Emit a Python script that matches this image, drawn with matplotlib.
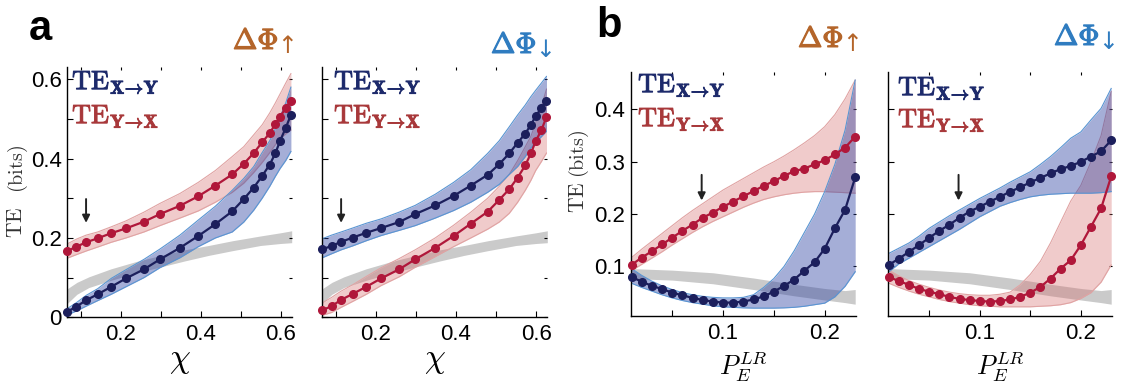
import numpy as np
import matplotlib.pyplot as plt
import matplotlib.patheffects as pe_fx
from matplotlib.ticker import MultipleLocator, FuncFormatter

plt.rcParams['font.family'] = ['Liberation Sans', 'DejaVu Sans']
plt.rcParams['mathtext.fontset'] = 'cm'

# coupling strength axis (panel a)
chi = [0.066, 0.089, 0.113, 0.142, 0.176, 0.213, 0.258, 0.298, 0.348, 0.394,
       0.437, 0.479, 0.508, 0.533, 0.554, 0.573, 0.587, 0.599, 0.613, 0.626]

# a, dPhi up
a_up_xy = [0.014, 0.027, 0.043, 0.058, 0.077, 0.098, 0.121, 0.146, 0.175, 0.205,
           0.235, 0.267, 0.298, 0.327, 0.356, 0.385, 0.413, 0.445, 0.477, 0.510]
a_up_xy_lo = [0.006, 0.016, 0.028, 0.042, 0.058, 0.077, 0.100, 0.125, 0.150, 0.178,
              0.200, 0.215, 0.240, 0.270, 0.300, 0.330, 0.355, 0.375, 0.395, 0.418]
a_up_xy_hi = [0.022, 0.037, 0.055, 0.072, 0.098, 0.120, 0.146, 0.172, 0.207, 0.245,
              0.280, 0.320, 0.350, 0.380, 0.415, 0.445, 0.475, 0.505, 0.540, 0.580]
a_up_yx = [0.167, 0.178, 0.189, 0.199, 0.212, 0.224, 0.241, 0.260, 0.281, 0.305,
           0.332, 0.360, 0.387, 0.414, 0.441, 0.464, 0.487, 0.506, 0.527, 0.546]
a_up_yx_lo = [0.149, 0.158, 0.167, 0.177, 0.189, 0.200, 0.215, 0.231, 0.250, 0.268,
              0.290, 0.315, 0.338, 0.365, 0.390, 0.415, 0.435, 0.450, 0.462, 0.472]
a_up_yx_hi = [0.185, 0.197, 0.207, 0.215, 0.228, 0.243, 0.265, 0.287, 0.312, 0.340,
              0.370, 0.405, 0.430, 0.460, 0.485, 0.515, 0.540, 0.563, 0.590, 0.614]

# a, dPhi down
a_dn_xy = [0.171, 0.180, 0.190, 0.201, 0.213, 0.225, 0.240, 0.260, 0.282, 0.306,
           0.332, 0.359, 0.386, 0.413, 0.440, 0.463, 0.485, 0.507, 0.527, 0.545]
a_dn_xy_lo = [0.150, 0.160, 0.170, 0.180, 0.193, 0.206, 0.219, 0.231, 0.250, 0.269,
              0.290, 0.315, 0.335, 0.360, 0.380, 0.405, 0.427, 0.440, 0.455, 0.469]
a_dn_xy_hi = [0.198, 0.207, 0.215, 0.225, 0.237, 0.248, 0.265, 0.282, 0.310, 0.340,
              0.372, 0.413, 0.445, 0.480, 0.510, 0.535, 0.556, 0.572, 0.590, 0.607]
a_dn_yx = [0.018, 0.028, 0.044, 0.059, 0.077, 0.098, 0.121, 0.146, 0.175, 0.205,
           0.236, 0.266, 0.296, 0.323, 0.352, 0.383, 0.413, 0.444, 0.471, 0.505]
a_dn_yx_lo = [0.005, 0.012, 0.025, 0.040, 0.058, 0.080, 0.102, 0.126, 0.153, 0.178,
              0.200, 0.222, 0.240, 0.262, 0.290, 0.320, 0.345, 0.370, 0.392, 0.414]
a_dn_yx_hi = [0.036, 0.050, 0.066, 0.082, 0.103, 0.125, 0.148, 0.170, 0.200, 0.232,
              0.265, 0.300, 0.330, 0.360, 0.395, 0.430, 0.456, 0.490, 0.530, 0.575]

# surrogate baseline (grey) for panel a
a_base_x = [0.066, 0.09, 0.12, 0.175, 0.24, 0.3, 0.36, 0.42, 0.48, 0.55, 0.6, 0.628]
a_base_lo = [0.035, 0.058, 0.075, 0.093, 0.112, 0.127, 0.142, 0.156, 0.168, 0.181, 0.186, 0.188]
a_base_hi = [0.072, 0.088, 0.102, 0.122, 0.141, 0.156, 0.170, 0.181, 0.193, 0.205, 0.213, 0.218]

# long-range probability axis (panel b)
pe = [0.01, 0.02, 0.03, 0.04, 0.05, 0.06, 0.07, 0.08, 0.09, 0.10, 0.11, 0.12,
      0.13, 0.14, 0.15, 0.16, 0.17, 0.18, 0.19, 0.20, 0.21, 0.22, 0.23]

# b, dPhi up
b_up_xy = [0.080, 0.071, 0.063, 0.057, 0.050, 0.045, 0.040, 0.036, 0.033, 0.031, 0.031, 0.033,
           0.037, 0.043, 0.052, 0.063, 0.075, 0.092, 0.108, 0.134, 0.173, 0.208, 0.270]
b_up_xy_lo = [0.068, 0.060, 0.053, 0.046, 0.040, 0.035, 0.031, 0.028, 0.025, 0.023, 0.022, 0.021,
              0.0205, 0.0205, 0.0205, 0.021, 0.022, 0.024, 0.027, 0.030, 0.042, 0.062, 0.090]
b_up_xy_hi = [0.096, 0.083, 0.072, 0.063, 0.056, 0.050, 0.046, 0.043, 0.041, 0.040, 0.040, 0.041,
              0.046, 0.060, 0.077, 0.100, 0.130, 0.165, 0.200, 0.243, 0.295, 0.360, 0.456]
b_up_yx = [0.103, 0.117, 0.129, 0.142, 0.155, 0.168, 0.180, 0.193, 0.203, 0.214, 0.224, 0.234,
           0.244, 0.254, 0.263, 0.273, 0.282, 0.287, 0.295, 0.303, 0.314, 0.327, 0.348]
b_up_yx_lo = [0.092, 0.104, 0.116, 0.128, 0.141, 0.153, 0.165, 0.176, 0.186, 0.195, 0.204, 0.213,
              0.221, 0.228, 0.233, 0.237, 0.240, 0.242, 0.243, 0.243, 0.242, 0.241, 0.240]
b_up_yx_hi = [0.117, 0.133, 0.148, 0.163, 0.178, 0.193, 0.207, 0.220, 0.233, 0.246, 0.257, 0.268,
              0.279, 0.290, 0.300, 0.311, 0.323, 0.336, 0.350, 0.367, 0.390, 0.420, 0.456]

# b, dPhi down
b_dn_xy = [0.103, 0.115, 0.128, 0.141, 0.155, 0.168, 0.180, 0.193, 0.205, 0.214, 0.224, 0.233,
           0.243, 0.251, 0.261, 0.269, 0.278, 0.286, 0.292, 0.300, 0.310, 0.320, 0.341]
b_dn_xy_lo = [0.090, 0.105, 0.116, 0.127, 0.138, 0.149, 0.160, 0.171, 0.183, 0.195, 0.205, 0.215,
              0.222, 0.228, 0.233, 0.236, 0.238, 0.239, 0.240, 0.240, 0.240, 0.241, 0.243]
b_dn_xy_hi = [0.125, 0.135, 0.145, 0.158, 0.173, 0.185, 0.197, 0.208, 0.219, 0.230, 0.240, 0.250,
              0.261, 0.271, 0.281, 0.295, 0.310, 0.327, 0.345, 0.357, 0.380, 0.402, 0.440]
b_dn_yx = [0.080, 0.072, 0.065, 0.057, 0.052, 0.047, 0.042, 0.038, 0.036, 0.034, 0.033, 0.034,
           0.037, 0.042, 0.050, 0.061, 0.077, 0.096, 0.112, 0.141, 0.176, 0.211, 0.272]
b_dn_yx_lo = [0.068, 0.060, 0.053, 0.047, 0.042, 0.037, 0.033, 0.030, 0.027, 0.025, 0.024, 0.023,
              0.023, 0.023, 0.023, 0.024, 0.025, 0.027, 0.031, 0.039, 0.050, 0.070, 0.103]
b_dn_yx_hi = [0.093, 0.082, 0.073, 0.066, 0.060, 0.055, 0.051, 0.048, 0.046, 0.045, 0.045, 0.047,
              0.051, 0.065, 0.085, 0.110, 0.145, 0.185, 0.225, 0.255, 0.300, 0.350, 0.434]

# surrogate baseline (grey) for panel b
b_base_x = [0.01, 0.05, 0.09, 0.13, 0.17, 0.2, 0.22, 0.23]
b_base_lo = [0.077, 0.074, 0.067, 0.056, 0.044, 0.036, 0.031, 0.028]
b_base_hi = [0.096, 0.093, 0.088, 0.078, 0.066, 0.058, 0.054, 0.056]

# arrows marking the reference operating point: (x, y_start, y_end)
arrow_a = (0.113, 0.298, 0.238)
arrow_b = (0.079, 0.275, 0.226)

NAVY = '#1c1f5c'
CRIMSON = '#b0173a'
BAND_BLUE = '#2a3fa0'
EDGE_BLUE = '#5a95d2'
BAND_RED = '#d46a6a'
EDGE_RED = '#e0a3a3'
GREY = '#cacaca'
UP = '#b4652a'
DOWN = '#2f7cc0'
TXT_NAVY = '#1d2a6b'
TXT_RED = '#a8383a'

W, H = 1123, 383
fig = plt.figure(figsize=(W / 100, H / 100), dpi=100)


def px(x, y):
    return x / W, 1 - y / H


def heavy(color, w=0.7):
    return [pe_fx.withStroke(linewidth=w, foreground=color)]


def series(ax, x, y, lo, hi, line, face, edge, alpha):
    ax.fill_between(x, lo, hi, color=face, alpha=alpha, lw=0, zorder=2)
    ax.plot(x, lo, color=edge, lw=0.8, zorder=2)
    ax.plot(x, hi, color=edge, lw=0.8, zorder=2)
    ax.plot(x, y, '-o', color=line, lw=1.6, ms=5.5, zorder=4, clip_on=False)


def style(ax, xlim, ylim, xmaj, xmin, ymaj, ymin, show_y):
    ax.set_xlim(*xlim)
    ax.set_ylim(*ylim)
    for s in ('top', 'right'):
        ax.spines[s].set_visible(False)
    for s in ('left', 'bottom'):
        ax.spines[s].set_linewidth(1.0)
    ax.xaxis.set_major_locator(MultipleLocator(xmaj))
    ax.xaxis.set_minor_locator(MultipleLocator(xmin))
    ax.yaxis.set_major_locator(MultipleLocator(ymaj))
    ax.yaxis.set_minor_locator(MultipleLocator(ymin))
    fmt = FuncFormatter(lambda v, _: '%g' % round(v, 3))
    ax.xaxis.set_major_formatter(fmt)
    ax.yaxis.set_major_formatter(fmt)
    ax.tick_params(which='both', direction='in', length=4, width=0.8,
                   labelsize=16, pad=5, right=True, top=True)
    ax.tick_params(axis='y', which='both', pad=4)
    if not show_y:
        ax.tick_params(axis='y', labelleft=False)
    # faint ticks on the open right and top edges
    for axis in (ax.xaxis, ax.yaxis):
        for t in axis.get_major_ticks() + axis.get_minor_ticks():
            t.tick2line.set_color('#b0b0b0')
            t.tick2line.set_markersize(2.5)


def baseline(ax, x, lo, hi):
    ax.fill_between(x, lo, hi, color=GREY, lw=0, zorder=1)


def marker_arrow(ax, arr):
    x, y0, y1 = arr
    ax.annotate('', xy=(x, y1), xytext=(x, y0),
                arrowprops=dict(arrowstyle='-|>', color='#222222', lw=1.4,
                                mutation_scale=11, shrinkA=0, shrinkB=0),
                zorder=5)


a_xlim = (0.066, 0.628)
a_ylim = (0.0, 0.6315)
b_xlim = (0.0095, 0.2305)
b_ylim = (0.006, 0.472)

ax1 = fig.add_axes([67.3 / W, 1 - 317.3 / H, 224.4 / W, 250.6 / H])
ax2 = fig.add_axes([322.3 / W, 1 - 317.3 / H, 225.0 / W, 250.6 / H])
ax3 = fig.add_axes([631.0 / W, 1 - 315.7 / H, 224.7 / W, 244.0 / H])
ax4 = fig.add_axes([888.3 / W, 1 - 315.7 / H, 223.4 / W, 244.0 / H])

# panel a: TE versus coupling
baseline(ax1, a_base_x, a_base_lo, a_base_hi)
series(ax1, chi, a_up_yx, a_up_yx_lo, a_up_yx_hi, CRIMSON, BAND_RED, EDGE_RED, 0.35)
series(ax1, chi, a_up_xy, a_up_xy_lo, a_up_xy_hi, NAVY, BAND_BLUE, EDGE_BLUE, 0.42)
marker_arrow(ax1, arrow_a)

baseline(ax2, a_base_x, a_base_lo, a_base_hi)
series(ax2, chi, a_dn_yx, a_dn_yx_lo, a_dn_yx_hi, CRIMSON, BAND_RED, EDGE_RED, 0.35)
series(ax2, chi, a_dn_xy, a_dn_xy_lo, a_dn_xy_hi, NAVY, BAND_BLUE, EDGE_BLUE, 0.42)
marker_arrow(ax2, arrow_a)

# panel b: TE versus long-range connection probability
baseline(ax3, b_base_x, b_base_lo, b_base_hi)
series(ax3, pe, b_up_yx, b_up_yx_lo, b_up_yx_hi, CRIMSON, BAND_RED, EDGE_RED, 0.35)
series(ax3, pe, b_up_xy, b_up_xy_lo, b_up_xy_hi, NAVY, BAND_BLUE, EDGE_BLUE, 0.42)
marker_arrow(ax3, arrow_b)

baseline(ax4, b_base_x, b_base_lo, b_base_hi)
series(ax4, pe, b_dn_yx, b_dn_yx_lo, b_dn_yx_hi, CRIMSON, BAND_RED, EDGE_RED, 0.35)
series(ax4, pe, b_dn_xy, b_dn_xy_lo, b_dn_xy_hi, NAVY, BAND_BLUE, EDGE_BLUE, 0.42)
marker_arrow(ax4, arrow_b)

style(ax1, a_xlim, a_ylim, 0.2, 0.1, 0.2, 0.1, True)
style(ax2, a_xlim, a_ylim, 0.2, 0.1, 0.2, 0.1, False)
style(ax3, b_xlim, b_ylim, 0.1, 0.05, 0.1, 0.1, True)
style(ax4, b_xlim, b_ylim, 0.1, 0.05, 0.1, 0.1, False)

for ax in (ax1, ax2):
    ax.set_xlabel(r'$\chi$', fontsize=24, labelpad=0)
for ax in (ax3, ax4):
    ax.set_xlabel(r'$P_E^{LR}$', fontsize=19, labelpad=4)

# y labels
for xc, y_te, y_bits in ((17, 222, 169), (578, 197, 154)):
    fig.text(*px(xc, y_te), r'$\mathrm{TE}$', rotation=90, fontsize=15.5,
             ha='center', va='center', color='#333333')
    fig.text(*px(xc + 1, y_bits), r'$\mathrm{(bits)}$', rotation=90, fontsize=14.5,
             ha='center', va='center', color='#333333')

# legends
leg_xy = r'$\mathrm{TE}_{\mathbf{X\!\rightarrow\!Y}}$'
leg_yx = r'$\mathrm{TE}_{\mathbf{Y\!\rightarrow\!X}}$'
for lx, ty1, ty2 in ((72, 70, 104), (334, 70, 104), (638, 73, 107), (898, 76, 108)):
    fig.text(*px(lx, ty1), leg_xy, fontsize=19, color=TXT_NAVY, ha='left', va='top',
             path_effects=heavy(TXT_NAVY))
    fig.text(*px(lx, ty2), leg_yx, fontsize=19, color=TXT_RED, ha='left', va='top',
             path_effects=heavy(TXT_RED))

# condition titles: Delta Phi with a direction arrow as subscript
for lx, ty, arrow, c in ((233, 27, '\u2191', UP),
                         (491, 31, '\u2193', DOWN),
                         (798, 25, '\u2191', UP),
                         (1054, 23, '\u2193', DOWN)):
    fig.text(*px(lx, ty), r'$\Delta\Phi$', fontsize=21, color=c, ha='left', va='top',
             path_effects=heavy(c, 0.9))
    fig.text(*px(lx + 44, ty + 7), arrow, fontsize=17, color=c, ha='left', va='top',
             family='DejaVu Sans')

# panel letters
fig.text(*px(29, 40), 'a', fontsize=30, fontweight='bold', ha='left', va='baseline')
fig.text(*px(596, 37), 'b', fontsize=30, fontweight='bold', ha='left', va='baseline')

fig.savefig('out.png', dpi=100)
